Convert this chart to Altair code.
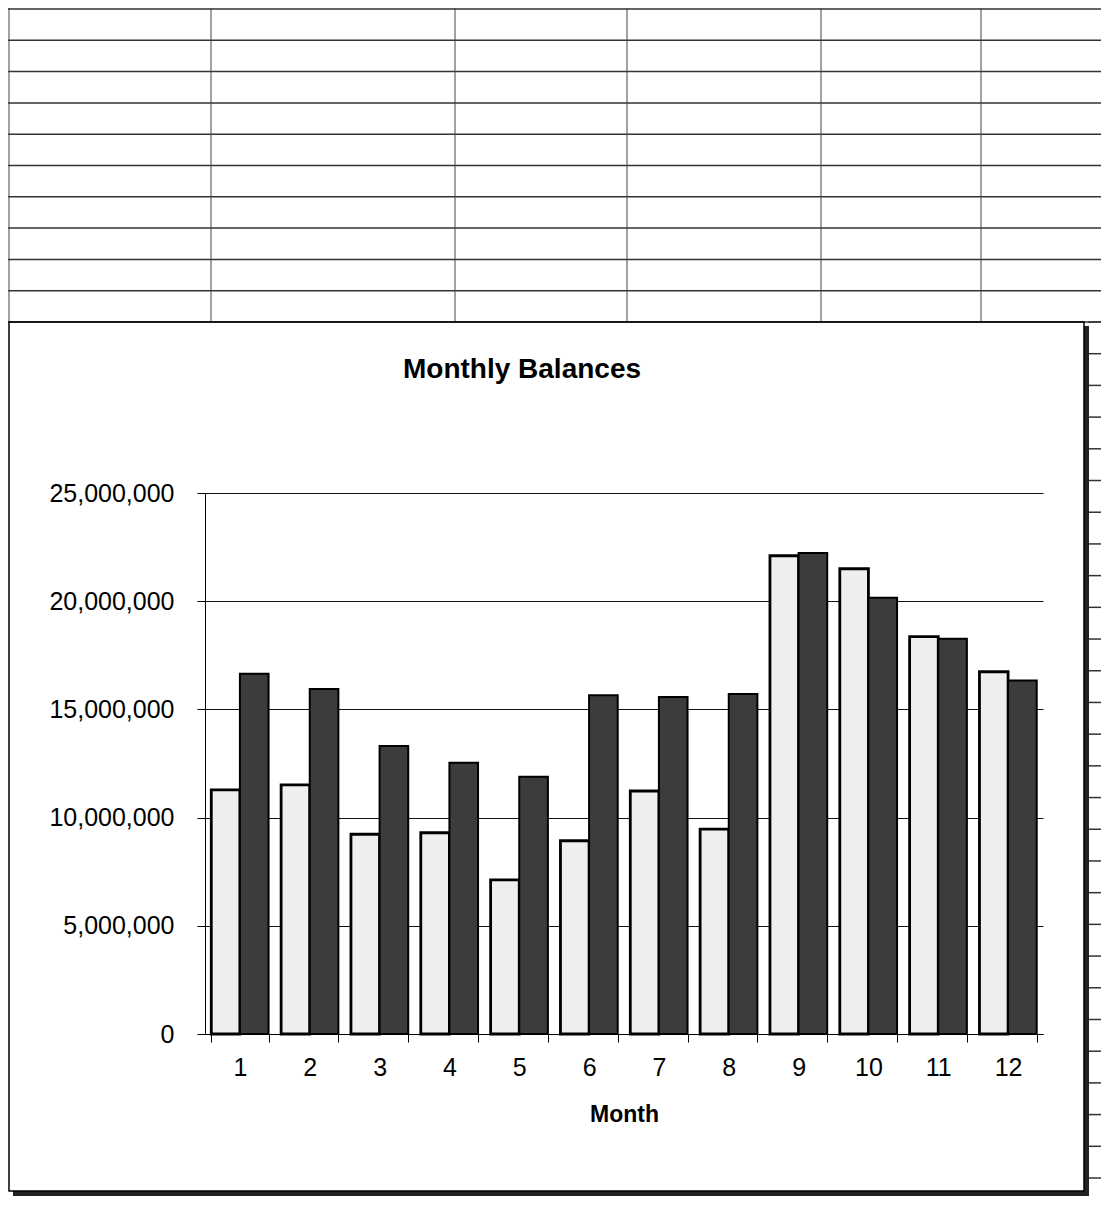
import altair as alt
import pandas as pd

# ---------------- data ----------------
months = [1, 2, 3, 4, 5, 6, 7, 8, 9, 10, 11, 12]
series_names = ["Series1", "Series2"]
series1 = [11280000, 11510000, 9230000, 9300000, 7120000, 8930000,
           11230000, 9470000, 22100000, 21500000, 18360000, 16740000]
series2 = [16650000, 15940000, 13310000, 12540000, 11890000, 15650000,
           15570000, 15710000, 22230000, 20160000, 18270000, 16340000]
y_ticks = [0, 5000000, 10000000, 15000000, 20000000, 25000000]
sheet_rows_top = list(range(0, 11))
sheet_rows_right = list(range(10, 38))

# ---------------- layout ----------------
FONT = "Liberation Sans"
W, H = 838, 541
PAD = {"left": 197, "top": 485, "right": 58, "bottom": 162}

df = pd.DataFrame({
    "Month": months * 2,
    "Series": [series_names[0]] * 12 + [series_names[1]] * 12,
    "Balance": series1 + series2,
})
one = alt.Data(values=[{"k": 1}])

# spreadsheet grid behind the embedded chart
rows_top = alt.Chart(pd.DataFrame({"row": sheet_rows_top})).mark_rule(
    color="#333333", strokeWidth=1.5
).encode(
    y=alt.Y("row:Q", scale=alt.Scale(domain=[0, 10], range=[-484, -171]), axis=None),
    x=alt.value(-197), x2=alt.value(W + PAD["right"]),
)
rows_right = alt.Chart(pd.DataFrame({"row": sheet_rows_right})).mark_rule(
    color="#333333", strokeWidth=1.5
).encode(
    y=alt.Y("row:Q", scale=alt.Scale(domain=[10, 37], range=[-171, 685]), axis=None),
    x=alt.value(883), x2=alt.value(W + PAD["right"]),
)
col_lines = [
    alt.Chart(one).mark_rule(color="#444444", strokeWidth=1).encode(
        x=alt.value(cx), y=alt.value(-485), y2=alt.value(-171)
    )
    for cx in [-196, 6, 250, 422, 616, 776]
]

# chart frame with shadow
frame = alt.Chart(one).mark_rect(fillOpacity=0, stroke="black", strokeWidth=1.5).encode(
    x=alt.value(-196), x2=alt.value(879), y=alt.value(-171), y2=alt.value(698)
)
shadow_r = alt.Chart(one).mark_rect(color="#222222").encode(
    x=alt.value(879), x2=alt.value(884), y=alt.value(-167), y2=alt.value(703)
)
shadow_b = alt.Chart(one).mark_rect(color="#222222").encode(
    x=alt.value(-192), x2=alt.value(884), y=alt.value(698), y2=alt.value(703)
)

title = alt.Chart(one).mark_text(
    text="Monthly Balances", font=FONT, fontSize=28, fontWeight="bold",
    align="center", baseline="alphabetic", color="black"
).encode(x=alt.value(317), y=alt.value(-115))

bars = alt.Chart(df).mark_bar(stroke="black").encode(
    x=alt.X(
        "Month:O",
        sort=months,
        scale=alt.Scale(paddingInner=0.18, paddingOuter=0.09),
        axis=alt.Axis(
            orient="bottom", title="Month", labelAngle=0, tickBand="extent",
            tickSize=8, tickColor="black", domainColor="black", grid=False,
            labelFont=FONT, labelFontSize=25, labelColor="black",
            labelPadding=33, labelBaseline="alphabetic",
            titleFont=FONT, titleFontSize=23, titleFontWeight="bold",
            titleColor="black", titleY=87, titleBaseline="alphabetic",
        ),
    ),
    xOffset=alt.XOffset("Series:N", sort=series_names,
                        scale=alt.Scale(paddingInner=0, paddingOuter=0)),
    y=alt.Y(
        "Balance:Q",
        scale=alt.Scale(domain=[0, 25000000], nice=False),
        axis=alt.Axis(
            orient="left", title=None, values=y_ticks, format=",.0f",
            tickSize=8, tickColor="black", domainColor="black",
            grid=True, gridColor="#111111", gridWidth=1, gridOpacity=1,
            labelFont=FONT, labelFontSize=25, labelColor="black", labelPadding=23,
        ),
    ),
    color=alt.Color("Series:N", scale=alt.Scale(domain=series_names,
                                                range=["#eeeeee", "#3c3c3c"]),
                    legend=None),
    strokeWidth=alt.StrokeWidth("Series:N", scale=alt.Scale(domain=series_names,
                                                            range=[2.8, 2]),
                                legend=None),
)

chart = alt.layer(
    rows_top, rows_right, *col_lines, shadow_r, shadow_b, frame, title, bars
).resolve_scale(y="independent").properties(
    width=W, height=H, padding=PAD,
    autosize=alt.AutoSizeParams(type="none"),
    background="white",
).configure_view(stroke=None)

chart.save("out.html", embed_options={"renderer": "svg", "actions": False})
